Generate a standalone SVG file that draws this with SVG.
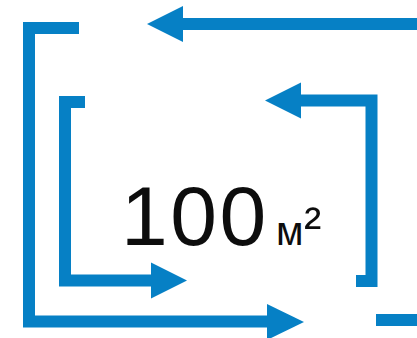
<svg xmlns="http://www.w3.org/2000/svg" width="417" height="338" viewBox="0 0 417 338">
<style>
.ln{fill:none;stroke:#0680C5;stroke-width:12;stroke-linecap:butt;stroke-linejoin:miter}
.hd{fill:#0680C5}
.t{font-family:"Liberation Sans",Arial,sans-serif;fill:#0d0d0d}
</style>
<rect width="417" height="338" fill="#fff"/>
<g id="connectors">
<path class="ln" d="M417,24 H181"/>
<polygon class="hd" points="147,24 183,6 183,42"/>
<path class="ln" d="M79,28 H29 V321.5 H269"/>
<polygon class="hd" points="304,322 267,304 267,340"/>
<path class="ln" d="M85,102 H65 V280.5 H153"/>
<polygon class="hd" points="187,280.5 151,262.5 151,298.5"/>
<path class="ln" d="M299,100.5 H371.5 V281 H356"/>
<polygon class="hd" points="265,100.5 301,82.5 301,118.5"/>
<path class="ln" d="M376,320 H417"/>
</g>
<g id="label">
<text class="t" y="245"><tspan x="121" font-size="84" letter-spacing="2.5">100</tspan><tspan x="276" font-size="40">м</tspan><tspan x="304" dy="-2" font-size="52">²</tspan></text>
</g>
</svg>
